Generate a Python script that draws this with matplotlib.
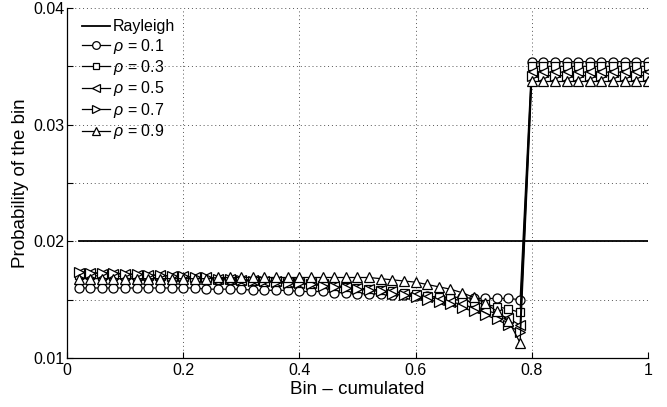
import numpy as np
import matplotlib
matplotlib.use("Agg")
import matplotlib.pyplot as plt

plt.rcParams['font.family'] = ['Liberation Sans', 'DejaVu Sans']
plt.rcParams['mathtext.fontset'] = 'custom'
plt.rcParams['mathtext.it'] = 'Liberation Sans:italic'
plt.rcParams['mathtext.rm'] = 'Liberation Sans'

# bin positions (50 bins, cumulated)
bins = np.round(np.arange(1, 51) * 0.02, 2)

rayleigh = [0.02] * 50

# first 39 bins (0.02 .. 0.78), then 11 bins (0.80 .. 1.00)
rho_01_low = [0.0160, 0.0160, 0.0160, 0.0160, 0.0160, 0.0160, 0.0160, 0.0160, 0.0160, 0.0160,
              0.0160, 0.0159, 0.0159, 0.0159, 0.0159, 0.0158, 0.0158, 0.0158, 0.0158, 0.0157,
              0.0157, 0.0157, 0.0156, 0.0156, 0.0155, 0.0155, 0.0155, 0.0154, 0.0154, 0.0153,
              0.0153, 0.0152, 0.0152, 0.0152, 0.0151, 0.0151, 0.0151, 0.0151, 0.0150]
rho_03_low = [0.0171, 0.0171, 0.0170, 0.0170, 0.0170, 0.0169, 0.0169, 0.0169, 0.0168, 0.0168,
              0.0168, 0.0167, 0.0167, 0.0167, 0.0166, 0.0166, 0.0165, 0.0165, 0.0164, 0.0164,
              0.0163, 0.0163, 0.0162, 0.0161, 0.0160, 0.0159, 0.0158, 0.0157, 0.0156, 0.0155,
              0.0153, 0.0152, 0.0151, 0.0149, 0.0148, 0.0146, 0.0144, 0.0142, 0.0139]
rho_05_low = [0.0173, 0.0173, 0.0172, 0.0172, 0.0172, 0.0171, 0.0171, 0.0171, 0.0170, 0.0170,
              0.0169, 0.0169, 0.0168, 0.0168, 0.0167, 0.0167, 0.0166, 0.0166, 0.0165, 0.0164,
              0.0164, 0.0163, 0.0162, 0.0161, 0.0160, 0.0159, 0.0158, 0.0157, 0.0155, 0.0154,
              0.0152, 0.0150, 0.0148, 0.0146, 0.0143, 0.0141, 0.0138, 0.0134, 0.0128]
rho_07_low = [0.0174, 0.0173, 0.0173, 0.0173, 0.0172, 0.0172, 0.0171, 0.0171, 0.0170, 0.0170,
              0.0169, 0.0169, 0.0168, 0.0168, 0.0167, 0.0166, 0.0166, 0.0165, 0.0164, 0.0164,
              0.0163, 0.0162, 0.0161, 0.0160, 0.0159, 0.0158, 0.0157, 0.0155, 0.0154, 0.0152,
              0.0150, 0.0148, 0.0146, 0.0143, 0.0140, 0.0137, 0.0133, 0.0128, 0.0122]
rho_09_low = [0.0168, 0.0168, 0.0168, 0.0168, 0.0168, 0.0168, 0.0168, 0.0168, 0.0168, 0.0168,
              0.0168, 0.0168, 0.0169, 0.0169, 0.0169, 0.0169, 0.0169, 0.0169, 0.0169, 0.0169,
              0.0169, 0.0169, 0.0169, 0.0169, 0.0169, 0.0169, 0.0168, 0.0167, 0.0166, 0.0165,
              0.0163, 0.0161, 0.0159, 0.0156, 0.0152, 0.0147, 0.0140, 0.0132, 0.0113]

rho_high = {0.1: 0.0354, 0.3: 0.0350, 0.5: 0.0345, 0.7: 0.0342, 0.9: 0.0337}

series = [
    (0.1, rho_01_low, 'o'),
    (0.3, rho_03_low, 's'),
    (0.5, rho_05_low, '<'),
    (0.7, rho_07_low, '>'),
    (0.9, rho_09_low, '^'),
]

fig = plt.figure(figsize=(6.67, 4.07), dpi=100)
ax = fig.add_axes([0.1004, 0.1204, 0.871, 0.8600])

ax.plot(bins, rayleigh, color='black', lw=1.3, label='Rayleigh')
for rho, low, mk in series:
    vals = list(low) + [rho_high[rho]] * 11
    ax.plot(bins, vals, color='black', lw=0.9, marker=mk,
            markersize=6.5 if mk != 's' else 5.5, markerfacecolor='white',
            markeredgecolor='black', markeredgewidth=0.9,
            label=r'$\rho$ = %.1f' % rho)

ax.set_xlim(0, 1)
ax.set_ylim(0.01, 0.04)
ax.set_xticks([0, 0.2, 0.4, 0.6, 0.8, 1.0])
ax.set_xticklabels(['0', '0.2', '0.4', '0.6', '0.8', '1'])
yt = [0.01, 0.015, 0.02, 0.025, 0.03, 0.035, 0.04]
ax.set_yticks(yt)
ax.set_yticklabels(['0.01', '', '0.02', '', '0.03', '', '0.04'])
ax.tick_params(direction='in', length=4, width=0.8, labelsize=11.5, pad=2)
ax.tick_params(axis='x', pad=3.5)

ax.grid(True, linestyle=(0, (1, 3)), color='#555555', linewidth=0.7)
for s in ['top', 'right']:
    ax.spines[s].set_visible(False)
for s in ['left', 'bottom']:
    ax.spines[s].set_linewidth(0.9)

ax.set_xlabel('Bin \u2013 cumulated', fontsize=13.5, labelpad=2)
ax.set_ylabel('Probability of the bin', fontsize=13.5, labelpad=3)

leg = ax.legend(loc='upper left', bbox_to_anchor=(0.026, 0.968), frameon=False,
                fontsize=11.5, handlelength=1.75, handletextpad=0.2,
                labelspacing=0.15, borderaxespad=0, borderpad=0,
                markerscale=0.85)

fig.savefig('out.png', dpi=100)
